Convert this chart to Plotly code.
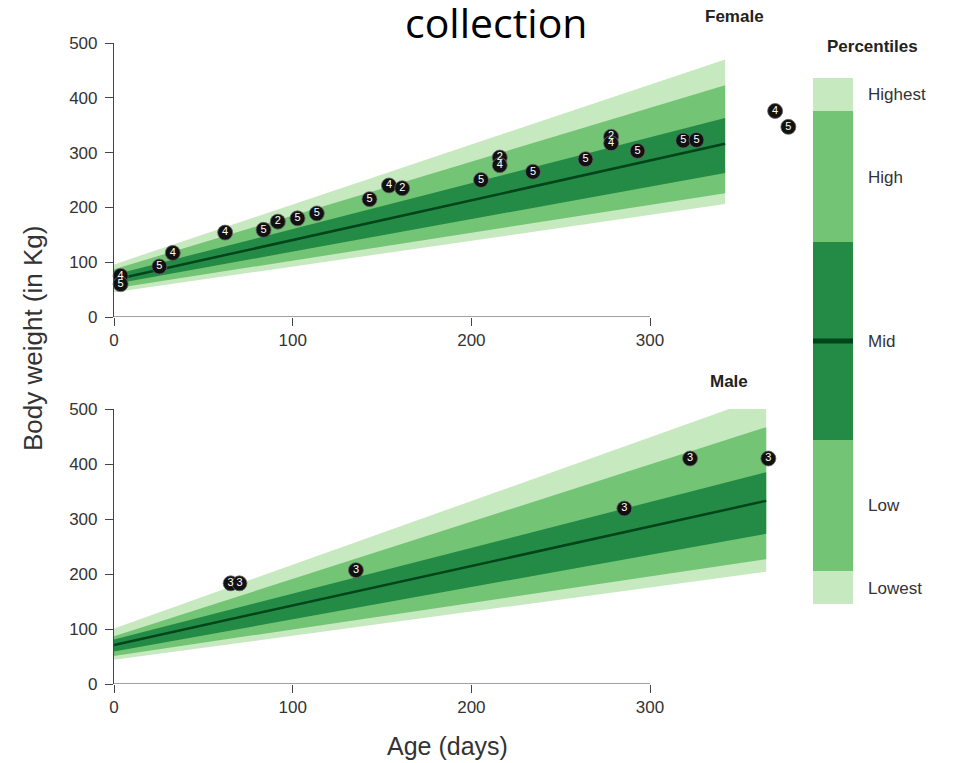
import plotly.graph_objects as go

# ---------------- data ----------------
female_age_ends = [0, 342]
female_lowest = [45, 206]
female_low = [52, 226]
female_midlow = [60, 263]
female_median = [68, 316]
female_midhigh = [77, 363]
female_high = [87, 423]
female_highest = [96, 470]

male_age_ends = [0, 365]
male_lowest = [44, 204]
male_low = [51, 227]
male_midlow = [59, 273]
male_median = [71, 333]
male_midhigh = [81, 385]
male_high = [87, 467]
male_highest = [101, 524]

female_days = [-1.3, 3.7, 3.7, 25.4, 32.9, 62.2, 83.7, 91.7, 102.7, 113.5, 143, 153.9,
               161.3, 205.4, 215.9, 215.9, 234.5, 263.9, 278.2, 278.2, 293, 318.6, 326,
               370, 377.4]
female_weight = [72, 75, 60, 92, 117, 154, 159, 174, 180, 189, 215, 240, 235, 250, 291,
                 277, 265, 288, 329, 317, 303, 322, 323, 376, 347]
female_label = ["2", "4", "5", "5", "4", "4", "5", "2", "5", "5", "5", "4", "2", "5", "2",
                "4", "5", "5", "2", "4", "5", "5", "5", "4", "5"]

male_days = [65.3, 70.2, 135.4, 285.6, 322.4, 366.2]
male_weight = [183, 183, 207, 319, 410, 410]
male_label = ["3", "3", "3", "3", "3", "3"]

legend_labels = ["Lowest", "Low", "Mid", "High", "Highest"]
legend_sizes = [1, 4, 6, 4, 1]

x_ticks = [0, 100, 200, 300]
y_ticks = [0, 100, 200, 300, 400, 500]

# ---------------- styles ----------------
C_LIGHT = "#c7e9c0"
C_MED = "#74c476"
C_DARK = "#238b45"
C_LINE = "#00441b"
AX = "#444444"
TXT = "#333333"
FONT = "Liberation Sans, Arial, sans-serif"

fig = go.Figure()


def add_bands(ages, lowest, low, midlow, median, midhigh, high, highest, xa, ya):
    for lo, hi, col in [(lowest, highest, C_LIGHT), (low, high, C_MED), (midlow, midhigh, C_DARK)]:
        fig.add_trace(go.Scatter(x=ages, y=lo, mode="lines", line=dict(width=0, color=col),
                                 xaxis=xa, yaxis=ya, showlegend=False, hoverinfo="skip"))
        fig.add_trace(go.Scatter(x=ages, y=hi, mode="lines", line=dict(width=0, color=col),
                                 fill="tonexty", fillcolor=col,
                                 xaxis=xa, yaxis=ya, showlegend=False, hoverinfo="skip"))
    fig.add_trace(go.Scatter(x=ages, y=median, mode="lines", line=dict(width=2.5, color=C_LINE),
                             xaxis=xa, yaxis=ya, showlegend=False, hoverinfo="skip"))


add_bands(female_age_ends, female_lowest, female_low, female_midlow, female_median,
          female_midhigh, female_high, female_highest, "x", "y")
add_bands(male_age_ends, male_lowest, male_low, male_midlow, male_median,
          male_midhigh, male_high, male_highest, "x2", "y2")

pt_marker = dict(size=15, color="#111111", line=dict(width=0.8, color="#666666"))
pt_font = dict(size=11, color="white", family=FONT)

fig.add_trace(go.Scatter(x=female_days, y=female_weight, text=female_label, mode="markers+text",
                         textposition="middle center", marker=pt_marker, textfont=pt_font,
                         cliponaxis=False, xaxis="x", yaxis="y", showlegend=False))
fig.add_trace(go.Scatter(x=male_days, y=male_weight, text=male_label, mode="markers+text",
                         textposition="middle center", marker=pt_marker, textfont=pt_font,
                         cliponaxis=False, xaxis="x2", yaxis="y2", showlegend=False))

# legend colour bar
bases = [sum(legend_sizes[:i]) for i in range(len(legend_sizes))]
centers = [b + s / 2 for b, s in zip(bases, legend_sizes)]
fig.add_trace(go.Bar(x=[0] * len(legend_sizes), y=legend_sizes, base=bases, width=1,
                     marker=dict(color=[C_LIGHT, C_MED, C_DARK, C_MED, C_LIGHT], line=dict(width=0)),
                     xaxis="x3", yaxis="y3", showlegend=False, hoverinfo="skip"))
fig.add_trace(go.Scatter(x=[-0.5, 0.5], y=[sum(legend_sizes) / 2] * 2, mode="lines",
                         line=dict(color=C_LINE, width=5), xaxis="x3", yaxis="y3",
                         showlegend=False, hoverinfo="skip"))

# page has an 8px body margin: figure placed at (8, 8)
OFF = 8
W, H = 956 - OFF, 763 - OFF
ML, MR, MT, MB = 114 - OFF, 0, 43 - OFF, 79
PW, PH = W - ML - MR, H - MT - MB


def px(xp):
    return (xp - OFF - ML) / PW


def py(yp):
    return (H - MB - (yp - OFF)) / PH


xdom = [0, px(793)]
xrange_ = [0, 380]

common_x = dict(range=xrange_, domain=xdom, showline=False, showgrid=False, zeroline=False,
                tickvals=x_ticks, ticks="outside", ticklen=8, tickwidth=1.2, tickcolor=AX,
                tickfont=dict(size=17, color=TXT, family=FONT), automargin=False)
common_y = dict(range=[0, 500], showline=True, linecolor=AX, linewidth=1.2, showgrid=False,
                zeroline=False, tickvals=y_ticks, ticks="outside", ticklen=8, tickwidth=1.2,
                tickcolor=AX, tickfont=dict(size=17, color=TXT, family=FONT), automargin=False,
                ticklabelstandoff=4)

fig.update_layout(
    width=W, height=H,
    margin=dict(l=ML, r=MR, t=MT, b=MB),
    paper_bgcolor="white", plot_bgcolor="white",
    xaxis=dict(**common_x, anchor="y"),
    yaxis=dict(**common_y, domain=[py(317), 1], anchor="x"),
    xaxis2=dict(**common_x, anchor="y2"),
    yaxis2=dict(**common_y, domain=[0, py(409)], anchor="x2"),
    xaxis3=dict(domain=[px(813), px(853)], range=[-0.5, 0.5], visible=False, anchor="y3"),
    yaxis3=dict(domain=[py(604), py(78)], range=[0, sum(legend_sizes)], anchor="x3", side="right",
                showline=False, showgrid=False, zeroline=False, tickvals=centers,
                ticktext=legend_labels, ticks="", ticklabelstandoff=14,
                tickfont=dict(size=17, color=TXT, family=FONT), automargin=False),
    bargap=0,
)

# x axis lines spanning 0..300 only
for xr, yr in [("x", "y"), ("x2", "y2")]:
    fig.add_shape(type="line", xref=xr, yref=yr, x0=x_ticks[0], x1=x_ticks[-1], y0=0, y1=0,
                  line=dict(color=AX, width=1.2))

ann = [
    dict(text="collection", x=px(496), y=py(22), font=dict(size=41, color="black", family="Open Sans")),
    dict(text="<b>Female</b>", x=px(734), y=py(16), font=dict(size=17, color="#222", family=FONT)),
    dict(text="<b>Male</b>", x=px(729), y=py(381), font=dict(size=17, color="#222", family=FONT)),
    dict(text="<b>Percentiles</b>", x=px(872), y=py(47), font=dict(size=17, color="#222", family=FONT)),
    dict(text="Age (days)", x=px(447), y=py(746), font=dict(size=25, color=TXT, family=FONT)),
    dict(text="Body weight (in Kg)", x=px(33), y=py(339), textangle=-90,
         font=dict(size=26, color=TXT, family=FONT)),
]
for a in ann:
    fig.add_annotation(xref="paper", yref="paper", showarrow=False, xanchor="center",
                       yanchor="middle", **a)

fig.write_html("out.html")
